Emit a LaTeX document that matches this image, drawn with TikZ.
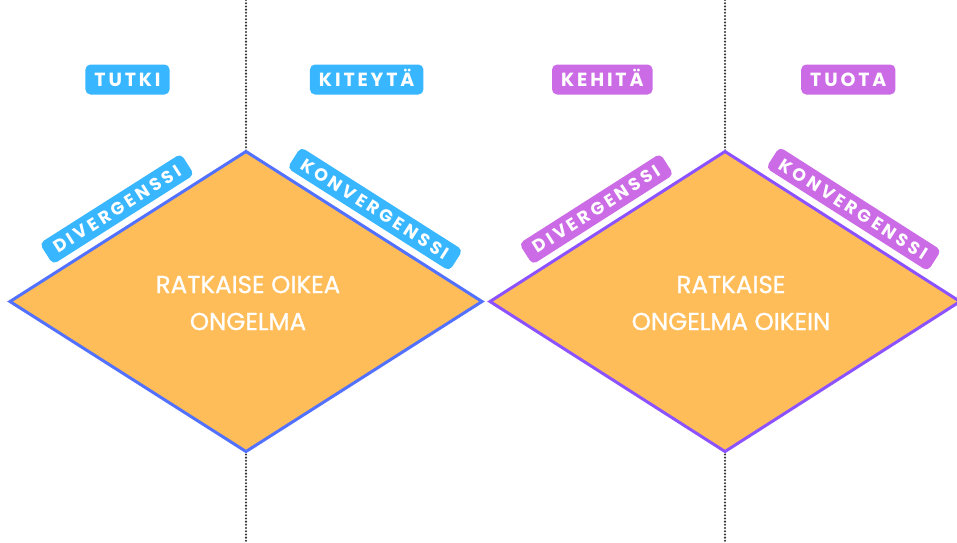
\documentclass[tikz,border=0pt]{standalone}
\usepackage{fontspec}
\setmainfont{Poppins}
\newfontfamily\tagfont[LetterSpace=15]{Poppins}
\newfontfamily\slopefont[LetterSpace=19]{Poppins}
\newfontfamily\goalfont[FakeBold=0.9]{Poppins}
\definecolor{skyblue}{HTML}{38B6FF}
\definecolor{orchid}{HTML}{CB6CE6}
\definecolor{mango}{HTML}{FFBD59}
\definecolor{royal}{HTML}{5271FF}
\definecolor{grape}{HTML}{8C52FF}
\definecolor{dotgray}{HTML}{333333}
\begin{document}
\begin{tikzpicture}[x=1pt,y=-1pt,
  phase/.style={rounded corners=5pt, fill=#1, text=white,
    font=\tagfont\bfseries\fontsize{19}{19}\selectfont,
    inner xsep=9pt, inner ysep=0pt, minimum height=30pt,
    text height=13.5pt, text depth=0pt},
  edgetag/.style={rounded corners=5pt, fill=#1, text=white,
    font=\slopefont\bfseries\fontsize{17.5}{17.5}\selectfont,
    inner xsep=10pt, inner ysep=0pt, minimum height=25pt,
    text height=12.4pt, text depth=0pt, sloped, above=8pt, pos=0.5},
  bigtext/.style={text=white, align=center,
    font=\goalfont\fontsize{24.5}{37}\selectfont},
  divider/.style={dotgray, line width=2.3pt, line cap=round,
    dash pattern=on 0pt off 3.2pt},
  diamond1/.style={draw=#1, line width=3pt, line join=miter, fill=mango}
]
\useasboundingbox (0,0) rectangle (957,542);

% phase dividers
\coordinate (d1top) at (246,0);
\coordinate (d1bot) at (246,542);
\coordinate (d2top) at (725,0);
\coordinate (d2bot) at (725,542);
\draw[divider] (d1top) -- (d1bot);
\draw[divider] (d2top) -- (d2bot);

% first diamond: the right problem
\coordinate (aL) at (10,301.5);
\coordinate (aT) at (246,151.5);
\coordinate (aR) at (482,301.5);
\coordinate (aB) at (246,451.5);
\draw[diamond1=royal] (aL) -- (aT) -- (aR) -- (aB) -- cycle;

% second diamond: the problem done right
\coordinate (bL) at (490,301.5);
\coordinate (bT) at (725,151.5);
\coordinate (bR) at (960,301.5);
\coordinate (bB) at (725,451.5);
\draw[diamond1=grape] (bL) -- (bT) -- (bR) -- (bB) -- cycle;

% edge tags
\path (aL) -- (aT) node[edgetag=skyblue] (divA) {DIVERGENSSI};
\path (aT) -- (aR) node[edgetag=skyblue] (konA) {KONVERGENSSI};
\path (bL) -- (bT) node[edgetag=orchid] (divB) {DIVERGENSSI};
\path (bT) -- (bR) node[edgetag=orchid] (konB) {KONVERGENSSI};

% phase tags
\node[phase=skyblue] (tutki) at (127.5,79.5) {TUTKI};
\node[phase=skyblue] (kiteyta) at (366.7,79.5) {KITEYTÄ};
\node[phase=orchid] (kehita) at (602.3,79.5) {KEHITÄ};
\node[phase=orchid] (tuota) at (848.3,79.5) {TUOTA};

% centre texts
\node[bigtext] (goalA) at (248,303) {RATKAISE OIKEA\\ONGELMA};
\node[bigtext] (goalB) at (731,303) {RATKAISE\\ONGELMA OIKEIN};
\end{tikzpicture}
\end{document}
